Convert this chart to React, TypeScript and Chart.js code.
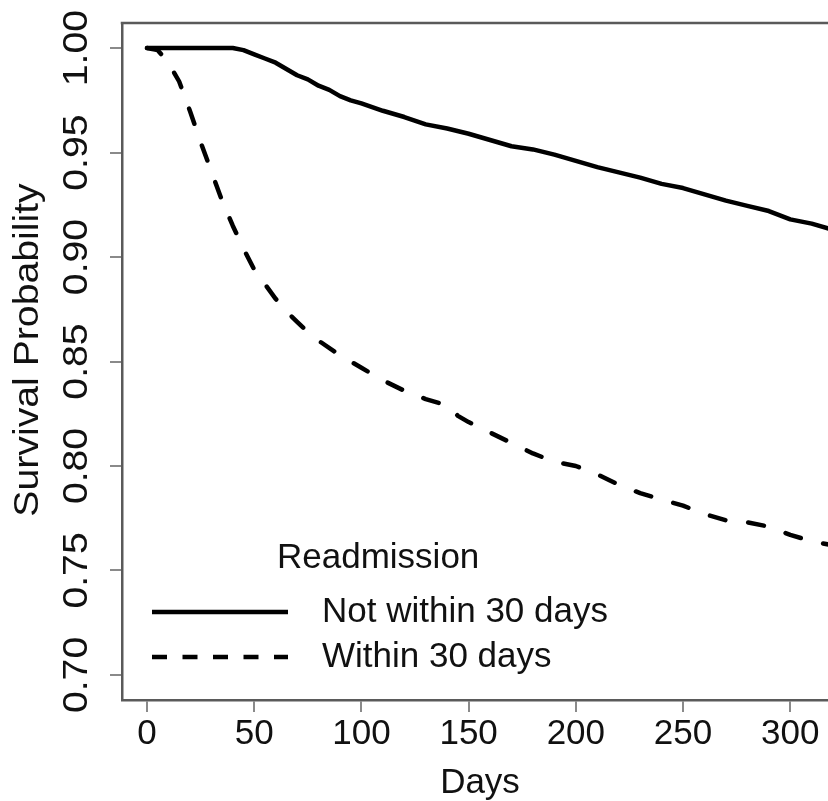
import React, { useEffect, useRef } from "react";
import { Chart, registerables } from "chart.js";

Chart.register(...registerables);

// ---- data ----
const notWithinDays = [0, 10, 20, 30, 40, 45, 50, 55, 60, 65, 70, 75, 80, 85, 90, 95, 100, 110, 120, 130, 140, 150, 160, 170, 180, 190, 200, 210, 220, 230, 240, 250, 260, 270, 280, 290, 300, 310, 320];
const notWithinSurv = [1.0, 1.0, 1.0, 1.0, 1.0, 0.999, 0.997, 0.995, 0.993, 0.99, 0.987, 0.985, 0.982, 0.98, 0.977, 0.975, 0.9735, 0.97, 0.967, 0.9635, 0.9615, 0.959, 0.956, 0.953, 0.9515, 0.949, 0.946, 0.943, 0.9405, 0.938, 0.935, 0.933, 0.93, 0.927, 0.9245, 0.922, 0.918, 0.916, 0.913];

const withinDays = [0, 5, 10, 15, 20, 25, 30, 35, 40, 45, 50, 55, 60, 65, 70, 75, 80, 90, 100, 110, 120, 130, 140, 145, 150, 160, 170, 180, 190, 200, 210, 220, 230, 240, 250, 260, 270, 280, 290, 300, 310, 320];
const withinSurv = [1.0, 0.999, 0.993, 0.984, 0.97, 0.955, 0.941, 0.927, 0.915, 0.904, 0.894, 0.887, 0.88, 0.874, 0.869, 0.864, 0.86, 0.853, 0.847, 0.841, 0.836, 0.832, 0.829, 0.824, 0.821, 0.816, 0.811, 0.806, 0.802, 0.8, 0.796, 0.791, 0.787, 0.784, 0.781, 0.777, 0.774, 0.773, 0.771, 0.767, 0.764, 0.762];

const seriesLabels = ["Not within 30 days", "Within 30 days"];
const legendTitle = "Readmission";
const xTicks = [0, 50, 100, 150, 200, 250, 300];
const xTickLabels = ["0", "50", "100", "150", "200", "250", "300"];
const yTicks = [0.7, 0.75, 0.8, 0.85, 0.9, 0.95, 1.0];
const yTickLabels = ["0.70", "0.75", "0.80", "0.85", "0.90", "0.95", "1.00"];
const xTitle = "Days";
const yTitle = "Survival Probability";

const FONT = '"Liberation Sans", Arial, Helvetica, sans-serif';
const TEXT = "#111";
const AXIS = "#5a5a5a";
const TICK = "#8a8a8a";

const overlay = {
  id: "overlay",
  afterDraw(chart: any) {
    const { ctx, chartArea, scales } = chart;
    const xs = scales.x;
    const ys = scales.y;
    ctx.save();
    // top frame line
    ctx.strokeStyle = AXIS;
    ctx.lineWidth = 2.5;
    ctx.beginPath();
    ctx.moveTo(chartArea.left - 1.25, chartArea.top);
    ctx.lineTo(chartArea.right, chartArea.top);
    ctx.stroke();

    ctx.fillStyle = TEXT;
    ctx.font = `35px ${FONT}`;
    ctx.textAlign = "center";
    ctx.textBaseline = "middle";
    xTicks.forEach((v, i) => {
      ctx.fillText(xTickLabels[i], xs.getPixelForValue(v), 734);
    });
    yTicks.forEach((v, i) => {
      ctx.save();
      ctx.translate(77, ys.getPixelForValue(v));
      ctx.rotate(-Math.PI / 2);
      ctx.scale(1.12, 1);
      ctx.fillText(yTickLabels[i], 0, 0);
      ctx.restore();
    });
    // axis titles
    ctx.fillText(xTitle, 480, 783);
    ctx.save();
    ctx.translate(28, 350);
    ctx.rotate(-Math.PI / 2);
    ctx.scale(1.12, 1);
    ctx.fillText(yTitle, 0, 0);
    ctx.restore();

    // legend
    ctx.textAlign = "left";
    ctx.fillText(legendTitle, 277, 558);
    const rows = [612, 657];
    chart.data.datasets.forEach((ds: any, i: number) => {
      const y = rows[i];
      ctx.save();
      ctx.strokeStyle = "#000";
      ctx.lineWidth = 4.5;
      ctx.lineCap = "butt";
      ctx.setLineDash(i === 1 ? [15, 15.5] : []);
      ctx.beginPath();
      ctx.moveTo(152, y);
      ctx.lineTo(288, y);
      ctx.stroke();
      ctx.restore();
      ctx.fillText(ds.label, 322, y);
    });
    ctx.restore();
  },
};

export default function App() {
  const ref = useRef<HTMLCanvasElement | null>(null);
  useEffect(() => {
    document.body.style.margin = "0";
    const canvas = ref.current;
    if (!canvas) return;
    const chart = new Chart(canvas, {
      type: "line",
      data: {
        datasets: [
          {
            label: seriesLabels[0],
            data: notWithinDays.map((d, i) => ({ x: d, y: notWithinSurv[i] })),
            borderColor: "#000",
            borderWidth: 4.5,
            pointRadius: 0,
            tension: 0,
            fill: false,
            borderCapStyle: "round",
            borderJoinStyle: "round",
          },
          {
            label: seriesLabels[1],
            data: withinDays.map((d, i) => ({ x: d, y: withinSurv[i] })),
            borderColor: "#000",
            borderWidth: 4.5,
            pointRadius: 0,
            tension: 0,
            fill: false,
            borderDash: [16, 23],
            borderCapStyle: "round",
            borderJoinStyle: "round",
          },
        ],
      },
      options: {
        animation: false,
        responsive: false,
        maintainAspectRatio: false,
        layout: { padding: { top: 23, left: 0, right: 0, bottom: 0 } },
        plugins: { legend: { display: false }, tooltip: { enabled: false }, title: { display: false } },
        scales: {
          x: {
            type: "linear",
            min: -11.66,
            max: 317.6,
            afterFit: (s: any) => {
              s.height = 101;
            },
            afterBuildTicks: (s: any) => {
              s.ticks = xTicks.map((v) => ({ value: v }));
            },
            ticks: { display: false },
            grid: { drawOnChartArea: false, drawTicks: true, tickLength: 12, color: TICK, lineWidth: 2 },
            border: { display: true, color: AXIS, width: 2.5 },
          },
          y: {
            type: "linear",
            min: 0.688,
            max: 1.012,
            afterFit: (s: any) => {
              s.width = 122;
            },
            afterBuildTicks: (s: any) => {
              s.ticks = yTicks.map((v) => ({ value: v }));
            },
            ticks: { display: false },
            grid: { drawOnChartArea: false, drawTicks: true, tickLength: 12, color: TICK, lineWidth: 2 },
            border: { display: true, color: AXIS, width: 2.5 },
          },
        },
      },
      plugins: [overlay],
    } as any);
    return () => chart.destroy();
  }, []);
  return (
    <div style={{ position: "relative", width: 828, height: 801, overflow: "hidden", background: "#fff" }}>
      <canvas ref={ref} width={828} height={801} style={{ display: "block", width: 828, height: 801 }} />
    </div>
  );
}
